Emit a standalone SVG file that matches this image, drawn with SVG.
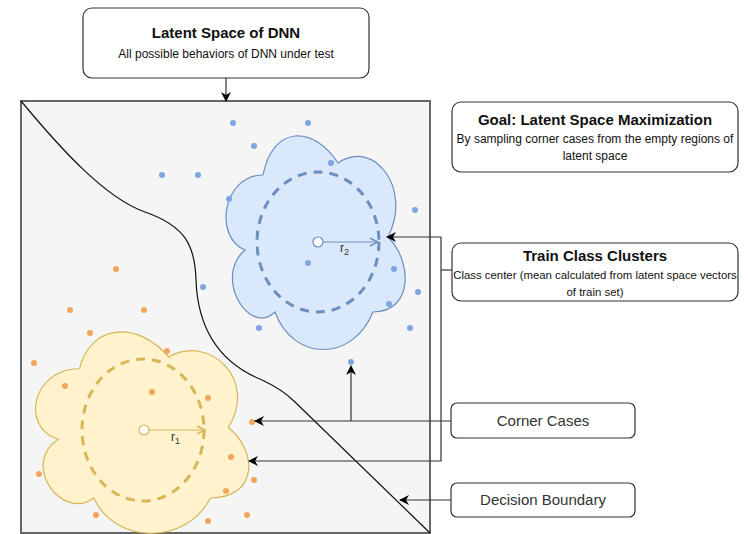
<svg xmlns="http://www.w3.org/2000/svg" width="748" height="534" viewBox="0 0 748 534">
<defs>
<style>
.box{fill:#fff;stroke:#333;stroke-width:1.2}
.t{font-family:"Liberation Sans",Arial,sans-serif;fill:#111;text-anchor:middle}
.b{font-weight:bold;font-size:15px}
.s{font-size:12px}
.s2{font-size:11.4px}
.m{font-size:15px;fill:#333}
.con{fill:none;stroke:#333;stroke-width:1.2}
.bd{fill:#7ea6e0}
.od{fill:#f2a65a}
</style>
<marker id="ah" viewBox="0 0 10 10" refX="9" refY="5" markerWidth="10" markerHeight="10" markerUnits="userSpaceOnUse" orient="auto">
<path d="M0,0 L10,5 L0,10 L3,5 Z" fill="#000"/>
</marker>
<marker id="ob" viewBox="0 0 10 10" refX="9" refY="5" markerWidth="10" markerHeight="10" markerUnits="userSpaceOnUse" orient="auto">
<path d="M1,1 L9,5 L1,9" fill="none" stroke="#6c8ebf" stroke-width="1.5"/>
</marker>
<marker id="oy" viewBox="0 0 10 10" refX="9" refY="5" markerWidth="10" markerHeight="10" markerUnits="userSpaceOnUse" orient="auto">
<path d="M1,1 L9,5 L1,9" fill="none" stroke="#d6b656" stroke-width="1.5"/>
</marker>
</defs>

<g id="latent-area">
<rect x="21" y="101" width="409" height="432" fill="#f5f5f5" stroke="#666" stroke-width="2"/>
<path d="M21,101 C60,148 105,198 145,212 C185,226 195,245 196,280 C198,335 225,365 262,380 C275,386 285,392 295,402 L430,533" fill="none" stroke="#111" stroke-width="1.2"/>
</g>

<g id="cluster-blue">
<path d="M263,175 C223,175 213,237 245,250 C213,277 249,337 275,312 C293,362 353,362 373,312 C413,312 413,262 388,237 C413,188 373,138 338,163 C313,125 273,125 263,175 Z" fill="#dae8fc" stroke="#6c8ebf" stroke-width="1.2"/>
<ellipse cx="318" cy="242" rx="61" ry="70" fill="none" stroke="#6c8ebf" stroke-width="3" stroke-dasharray="9,7"/>
<circle cx="318" cy="242" r="5" fill="#fff" stroke="#6c8ebf" stroke-width="1.2"/>
<line x1="323" y1="242" x2="378" y2="242" stroke="#6c8ebf" stroke-width="1.2" marker-end="url(#ob)"/>
<text x="340" y="252" font-family="Liberation Sans,Arial,sans-serif" font-size="12" fill="#333">r<tspan font-size="9" dy="3">2</tspan></text>
</g>

<g id="cluster-orange">
<path d="M79.5,368.75 C31.9,368.75 20,427.5 58.1,439.25 C20,465.1 62.8,521.5 93.8,498 C115.2,545 186.6,545 210.4,498 C258,498 258,451 228.25,427.5 C258,380.5 210.4,333.5 168.75,357 C139,321.75 91.4,321.75 79.5,368.75 Z" fill="#fff2cc" stroke="#d6b656" stroke-width="1.2"/>
<ellipse cx="143" cy="430" rx="61" ry="71" fill="none" stroke="#d6b656" stroke-width="3" stroke-dasharray="9,7"/>
<circle cx="144" cy="430" r="5" fill="#fff" stroke="#d6b656" stroke-width="1.2"/>
<line x1="149" y1="430" x2="205" y2="430" stroke="#d6b656" stroke-width="1.2" marker-end="url(#oy)"/>
<text x="171" y="441" font-family="Liberation Sans,Arial,sans-serif" font-size="12" fill="#333">r<tspan font-size="9" dy="3">1</tspan></text>
</g>

<g id="points-blue">
<circle class="bd" cx="233" cy="123" r="3"/>
<circle class="bd" cx="308" cy="123" r="3"/>
<circle class="bd" cx="254" cy="146" r="3"/>
<circle class="bd" cx="162" cy="175" r="3"/>
<circle class="bd" cx="198" cy="175" r="3"/>
<circle class="bd" cx="331" cy="163" r="3"/>
<circle class="bd" cx="229" cy="199" r="3"/>
<circle class="bd" cx="415" cy="210" r="3"/>
<circle class="bd" cx="308" cy="263" r="3"/>
<circle class="bd" cx="394" cy="269" r="3"/>
<circle class="bd" cx="418" cy="292" r="3"/>
<circle class="bd" cx="389" cy="304" r="3"/>
<circle class="bd" cx="410" cy="328" r="3"/>
<circle class="bd" cx="259" cy="328" r="3"/>
<circle class="bd" cx="203" cy="287" r="3"/>
<circle class="bd" cx="351" cy="362" r="3"/>
</g>

<g id="points-orange">
<circle class="od" cx="116" cy="269" r="3"/>
<circle class="od" cx="70" cy="310" r="3"/>
<circle class="od" cx="144" cy="310" r="3"/>
<circle class="od" cx="90" cy="333" r="3"/>
<circle class="od" cx="167" cy="351" r="3"/>
<circle class="od" cx="34" cy="363" r="3"/>
<circle class="od" cx="65" cy="386" r="3"/>
<circle class="od" cx="152" cy="392" r="3"/>
<circle class="od" cx="208" cy="398" r="3"/>
<circle class="od" cx="252" cy="422" r="3"/>
<circle class="od" cx="231" cy="457" r="3"/>
<circle class="od" cx="39" cy="474" r="3"/>
<circle class="od" cx="254" cy="480" r="3"/>
<circle class="od" cx="226" cy="491" r="3"/>
<circle class="od" cx="96" cy="515" r="3"/>
<circle class="od" cx="208" cy="521" r="3"/>
<circle class="od" cx="247" cy="515" r="3"/>
</g>

<g id="node-latent">
<rect class="box" x="83" y="8" width="286" height="70" rx="9"/>
<text class="t b" x="226" y="38">Latent Space of DNN</text>
<text class="t s" x="226" y="58">All possible behaviors of DNN under test</text>
</g>

<g id="node-goal">
<rect class="box" x="452" y="102" width="286" height="70" rx="9"/>
<text class="t b" x="595" y="125">Goal: Latent Space Maximization</text>
<text class="t s" x="595" y="143">By sampling corner cases from the empty regions of</text>
<text class="t s" x="595" y="160">latent space</text>
</g>

<g id="node-train">
<rect class="box" x="452" y="243" width="286" height="58" rx="9"/>
<text class="t b" x="595" y="261">Train Class Clusters</text>
<text class="t s2" x="595" y="279">Class center (mean calculated from latent space vectors</text>
<text class="t s2" x="595" y="296">of train set)</text>
</g>

<g id="node-corner">
<rect class="box" x="451" y="403" width="184" height="35" rx="6"/>
<text class="t m" x="543" y="426">Corner Cases</text>
</g>

<g id="node-decision">
<rect class="box" x="451" y="483" width="184" height="34" rx="6"/>
<text class="t m" x="543" y="505">Decision Boundary</text>
</g>

<g id="connectors">
<path class="con" d="M226,78 L226,101" marker-end="url(#ah)"/>
<path class="con" d="M452,270 L441,270"/>
<path class="con" d="M441,270 L441,237 L387,237" marker-end="url(#ah)"/>
<path class="con" d="M441,270 L441,461 L249,461" marker-end="url(#ah)"/>
<path class="con" d="M451,421 L255,421" marker-end="url(#ah)"/>
<path class="con" d="M351,421 L351,366" marker-end="url(#ah)"/>
<path class="con" d="M451,500 L400,500" marker-end="url(#ah)"/>
</g>
</svg>
